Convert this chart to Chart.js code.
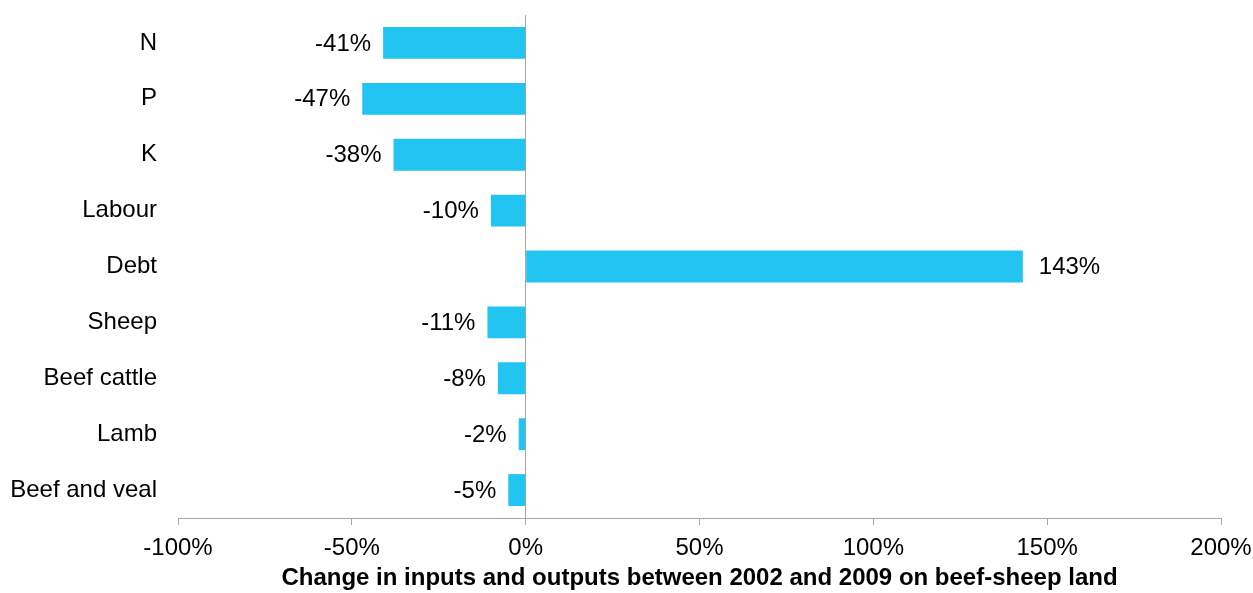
<!DOCTYPE html>
<html>
<head>
<meta charset="utf-8">
<script src="https://cdn.jsdelivr.net/npm/chart.js@4"></script>
<style>
  body { margin: 0; background: #fff; }
</style>
</head>
<body>
<canvas id="chart" width="1253" height="593"></canvas>
<script>
// categories top to bottom, change in percent
const categories = ['N', 'P', 'K', 'Labour', 'Debt', 'Sheep', 'Beef cattle', 'Lamb', 'Beef and veal'];
const changes = [-41, -47, -38, -10, 143, -11, -8, -2, -5];
const xTicks = [-100, -50, 0, 50, 100, 150, 200];
const axisTitle = 'Change in inputs and outputs between 2002 and 2009 on beef-sheep land';

const FONT = '"Liberation Sans", Arial, sans-serif';
const GREY = '#a6a6a6';

// draws the value next to each bar
const barLabels = {
  id: 'barLabels',
  afterDatasetsDraw(chart) {
    const ctx = chart.ctx;
    const meta = chart.getDatasetMeta(0);
    ctx.save();
    ctx.font = '24px ' + FONT;
    ctx.fillStyle = '#000';
    ctx.textBaseline = 'middle';
    meta.data.forEach((bar, i) => {
      const v = changes[i];
      const txt = v + '%';
      if (v < 0) {
        ctx.textAlign = 'right';
        ctx.fillText(txt, Math.min(bar.x, bar.base) - 12, bar.y + 1);
      } else {
        ctx.textAlign = 'left';
        ctx.fillText(txt, Math.max(bar.x, bar.base) + 16, bar.y + 1);
      }
    });
    ctx.restore();
  }
};

new Chart(document.getElementById('chart'), {
  type: 'bar',
  data: {
    labels: categories,
    datasets: [{
      data: changes,
      backgroundColor: '#22c4f2',
      borderWidth: 0,
      categoryPercentage: 1,
      barPercentage: 0.57
    }]
  },
  options: {
    indexAxis: 'y',
    responsive: false,
    animation: false,
    layout: { padding: { top: 15, right: 32, left: 0, bottom: 0 } },
    plugins: {
      legend: { display: false },
      tooltip: { enabled: false }
    },
    scales: {
      x: {
        type: 'linear',
        min: -100,
        max: 200,
        afterBuildTicks(scale) {
          scale.ticks = xTicks.map(v => ({ value: v }));
        },
        afterFit(scale) {
          scale.height = 75;
          scale.paddingLeft = 0;
          scale.paddingRight = 0;
        },
        border: { display: true, color: GREY, width: 1 },
        grid: {
          color: c => (c.tick && c.tick.value === 0 ? GREY : 'rgba(0,0,0,0)'),
          tickColor: GREY,
          tickLength: 7,
          drawOnChartArea: true
        },
        ticks: {
          font: { family: FONT, size: 24 },
          color: '#000',
          padding: 9,
          maxRotation: 0,
          callback: v => v + '%'
        },
        title: {
          display: true,
          text: axisTitle,
          font: { family: FONT, size: 24, weight: 'bold' },
          color: '#000',
          padding: { top: 0, bottom: 0 }
        }
      },
      y: {
        afterFit(scale) {
          scale.width = 178;
          scale.paddingTop = 0;
          scale.paddingBottom = 0;
        },
        border: { display: false },
        grid: { display: false, drawTicks: false },
        ticks: {
          font: { family: FONT, size: 24 },
          color: '#000',
          padding: 21
        }
      }
    }
  },
  plugins: [barLabels]
});
</script>
</body>
</html>
